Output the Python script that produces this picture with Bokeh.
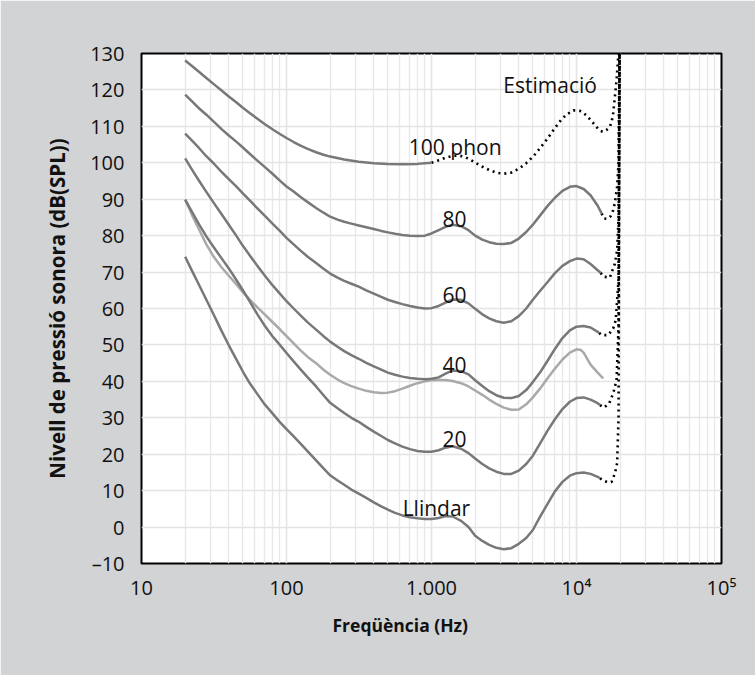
from bokeh.plotting import figure
from bokeh.models import FixedTicker, Label, Title
from bokeh.embed import file_html
from bokeh.resources import INLINE

# ---------------- data ----------------
# threshold of hearing ("Llindar")
thr_f = [20, 22.4, 25, 28, 31.5, 35.5, 40, 45, 50, 56, 63, 71, 80, 90, 100, 112, 125, 140, 160, 180,
         200, 225, 250, 280, 315, 355, 400, 450, 500, 560, 630, 710, 800, 900, 1000, 1120, 1250, 1400,
         1600, 1800, 2000, 2240, 2500, 2800, 3150, 3550, 4000, 4500, 5000, 5600, 6300, 7100, 8000,
         9000, 10000, 11200, 12500, 14000, 14520]
thr_db = [74.2, 70.2, 66.4, 62.4, 58.3, 54.0, 49.9, 46.1, 42.7, 39.4, 36.5, 33.6, 31.2, 28.8, 26.9, 24.9,
          22.9, 20.8, 18.3, 16.1, 14.2, 12.8, 11.6, 10.3, 9.2, 8.0, 6.8, 5.7, 4.8, 3.9, 3.2, 2.7, 2.4, 2.2,
          2.2, 2.5, 3.0, 2.9, 1.7, 0.0, -2.4, -3.8, -4.9, -5.7, -6.1, -5.8, -4.6, -3.0, -0.8, 2.8, 6.3,
          9.8, 12.4, 14.1, 14.8, 15.0, 14.6, 13.8, 13.4]
thr_est_f = [14520, 15460, 16400, 17450, 18390, 19060, 19500, 19800]
thr_est_db = [13.4, 12.7, 12.3, 12.4, 14.7, 17.5, 30.0, 130]

p20_f = [20, 22.4, 25, 28, 31.5, 35.5, 40, 45, 50, 56, 63, 71, 80, 90, 100, 112, 125, 140, 160, 180,
         200, 225, 250, 280, 315, 355, 400, 450, 500, 560, 630, 710, 800, 900, 1000, 1120, 1250, 1400,
         1600, 1800, 2000, 2240, 2500, 2800, 3150, 3550, 4000, 4500, 5000, 5600, 6300, 7100, 8000,
         9000, 10000, 11200, 12500, 14000, 14520]
p20_db = [89.9, 86.4, 83.0, 79.8, 76.8, 73.9, 71.0, 67.9, 65.0, 61.8, 58.4, 55.2, 52.4, 50.0, 47.8, 45.5,
          43.3, 41.1, 38.6, 36.2, 34.1, 32.6, 31.3, 30.0, 28.9, 27.5, 26.2, 25.0, 23.9, 23.0, 22.1, 21.4,
          20.9, 20.7, 20.7, 21.1, 21.8, 22.2, 21.5, 20.3, 18.8, 17.3, 16.1, 15.2, 14.6, 14.6, 15.5, 17.3,
          19.6, 22.9, 26.4, 29.6, 32.4, 34.4, 35.4, 35.6, 35.0, 34.0, 33.5]
p20_est_f = [14520, 15460, 16790, 17900, 18890, 19500, 19800]
p20_est_db = [33.5, 32.8, 33.9, 36.7, 40.3, 55.0, 130]

p40_f = [20, 22.4, 25, 28, 31.5, 35.5, 40, 45, 50, 56, 63, 71, 80, 90, 100, 112, 125, 140, 160, 180,
         200, 225, 250, 280, 315, 355, 400, 450, 500, 560, 630, 710, 800, 900, 1000, 1120, 1250, 1400,
         1600, 1800, 2000, 2240, 2500, 2800, 3150, 3550, 4000, 4500, 5000, 5600, 6300, 7100, 8000,
         9000, 10000, 11200, 12500, 14000, 14340]
p40_db = [101.2, 98.0, 95.0, 92.0, 89.0, 86.0, 83.0, 80.0, 77.2, 74.5, 71.7, 69.0, 66.4, 64.1, 62.0, 60.0,
          58.1, 56.2, 54.2, 52.4, 50.9, 49.5, 48.3, 47.2, 46.2, 45.1, 44.1, 43.2, 42.4, 41.8, 41.3, 40.9,
          40.7, 40.6, 40.7, 41.1, 42.1, 43.0, 42.8, 41.9, 40.3, 38.7, 37.3, 36.2, 35.5, 35.4, 36.0, 37.6,
          39.8, 42.4, 45.6, 48.9, 51.9, 54.0, 55.0, 55.2, 54.8, 53.6, 53.3]
p40_est_f = [14340, 14900, 16550, 17900, 18660, 19500, 19800]
p40_est_db = [53.3, 52.7, 52.7, 54.5, 56.8, 68.0, 130]

# older standard, 40 phon (light grey)
old40_f = [20, 22.4, 25, 28, 31.5, 35.5, 40, 45, 50, 56, 63, 71, 80, 90, 100, 112, 125, 140, 160, 180,
           200, 225, 250, 280, 315, 355, 400, 450, 500, 560, 630, 710, 800, 900, 1000, 1120, 1250, 1400,
           1600, 1800, 2000, 2240, 2500, 2800, 3150, 3550, 4000, 4500, 5000, 5600, 6300, 7100, 8000,
           9000, 10000, 10700, 11200, 12500, 14000, 15270]
old40_db = [89.9, 85.5, 81.6, 77.6, 74.2, 71.4, 69.0, 66.7, 64.5, 62.4, 60.3, 58.3, 56.3, 54.3, 52.4, 50.4,
            48.5, 46.7, 45.0, 43.2, 41.8, 40.5, 39.5, 38.7, 38.0, 37.4, 37.0, 36.8, 36.9, 37.3, 38.0, 38.8,
            39.5, 40.0, 40.3, 40.4, 40.4, 40.1, 39.5, 38.6, 37.5, 36.3, 35.0, 33.8, 32.8, 32.2, 32.3, 33.7,
            35.6, 38.0, 40.8, 43.5, 46.0, 47.9, 48.8, 48.6, 47.9, 44.6, 42.4, 40.8]

p60_f = [20, 22.4, 25, 28, 31.5, 35.5, 40, 45, 50, 56, 63, 71, 80, 90, 100, 112, 125, 140, 160, 180,
         200, 225, 250, 280, 315, 355, 400, 450, 500, 560, 630, 710, 800, 900, 1000, 1120, 1250, 1400,
         1600, 1800, 2000, 2240, 2500, 2800, 3150, 3550, 4000, 4500, 5000, 5600, 6300, 7100, 8000,
         9000, 10000, 11200, 12500, 14000, 14660]
p60_db = [108.0, 106.0, 104.0, 101.8, 99.8, 97.6, 95.5, 93.5, 91.6, 89.6, 87.5, 85.4, 83.3, 81.3, 79.4,
          77.6, 75.9, 74.2, 72.5, 70.9, 69.6, 68.5, 67.6, 66.8, 66.0, 65.0, 64.1, 63.2, 62.4, 61.8, 61.2,
          60.7, 60.3, 60.0, 60.1, 60.7, 61.6, 62.5, 62.4, 61.4, 59.9, 58.4, 57.3, 56.5, 56.1, 56.5, 57.9,
          60.0, 62.4, 64.8, 67.2, 69.7, 71.7, 73.0, 73.7, 73.5, 72.2, 70.5, 69.8]
p60_est_f = [14660, 15460, 16980, 18390, 19060, 19500, 19800]
p60_est_db = [69.8, 68.7, 68.5, 72.3, 76.0, 85.0, 130]

p80_f = [20, 22.4, 25, 28, 31.5, 35.5, 40, 45, 50, 56, 63, 71, 80, 90, 100, 112, 125, 140, 160, 180,
         200, 225, 250, 280, 315, 355, 400, 450, 500, 560, 630, 710, 800, 900, 1000, 1120, 1250, 1400,
         1600, 1800, 2000, 2240, 2500, 2800, 3150, 3550, 4000, 4500, 5000, 5600, 6300, 7100, 8000,
         9000, 10000, 11200, 12500, 14000, 14900]
p80_db = [118.7, 116.8, 114.9, 113.2, 111.3, 109.3, 107.5, 105.8, 104.2, 102.4, 100.6, 98.8, 97.0, 95.1,
          93.5, 92.1, 90.6, 89.2, 87.6, 86.3, 85.2, 84.4, 83.8, 83.3, 82.8, 82.3, 81.8, 81.3, 80.9, 80.5,
          80.2, 80.0, 79.9, 80.0, 80.6, 81.5, 82.4, 83.0, 82.6, 81.5, 80.0, 78.9, 78.2, 77.8, 77.7, 78.0,
          79.2, 81.0, 83.0, 85.5, 88.1, 90.4, 92.3, 93.4, 93.6, 92.8, 91.1, 88.2, 86.1]
p80_est_f = [14900, 15460, 16300, 17180, 17900, 18390, 19060, 19500, 19800]
p80_est_db = [86.1, 84.7, 84.6, 85.3, 87.0, 89.0, 93.4, 100.0, 130]

p100_f = [20, 22.4, 25, 28, 31.5, 35.5, 40, 45, 50, 56, 63, 71, 80, 90, 100, 112, 125, 140, 160, 180,
          200, 250, 315, 400, 500, 630, 800, 1000]
p100_db = [128.1, 126.5, 124.9, 123.3, 121.6, 119.9, 118.2, 116.6, 115.1, 113.6, 112.1, 110.6, 109.2,
           107.9, 106.8, 105.7, 104.7, 103.8, 102.9, 102.2, 101.7, 100.9, 100.3, 99.9, 99.7, 99.6, 99.7,
           100.0]
p100_est_f = [1000, 1120, 1250, 1400, 1540, 1700, 1900, 2170, 2500, 2800, 3150, 3550, 4090, 4500, 5050,
              5600, 6240, 7000, 7700, 8500, 9510, 10500, 11750, 12800, 13770, 14500, 15270, 16100,
              16980, 17500, 17900, 18390, 18890, 19380, 19500]
p100_est_db = [100.0, 100.7, 101.4, 101.9, 102.0, 101.6, 100.6, 99.2, 98.0, 97.3, 97.0, 97.3, 98.6, 99.9,
               101.8, 104.0, 106.4, 109.2, 111.4, 113.2, 114.4, 114.3, 113.0, 111.3, 109.8, 108.8, 108.5,
               109.0, 109.8, 111.5, 113.5, 118.1, 122.6, 129.0, 130]

x_ticks = [10, 100, 1000, 10000, 100000]
x_tick_labels = ["10", "100", "1.000", "10\u2074", "10\u2075"]
x_minor = [m * d for d in (10, 100, 1000, 10000) for m in range(2, 10)]
y_ticks = list(range(-10, 131, 10))
y_tick_labels = ["\u201310"] + [str(v) for v in y_ticks[1:]]

# ---------------- figure ----------------
FONT = "Open Sans"
DARK = "#78787b"
LIGHT = "#a9a9ab"
TXT = "#111111"

p = figure(width=755, height=675, x_axis_type="log", x_range=(10, 100000), y_range=(-10, 130),
           output_backend="svg", toolbar_location=None,
           min_border_left=141, min_border_right=34, min_border_top=53, min_border_bottom=112)
p.border_fill_color = "#d1d3d4"
p.background_fill_color = "white"
p.outline_line_color = "black"
p.outline_line_width = 2

xt = FixedTicker(ticks=x_ticks, minor_ticks=x_minor)
yt = FixedTicker(ticks=y_ticks)
p.xaxis.ticker = xt
p.xgrid.ticker = xt
p.yaxis.ticker = yt
p.ygrid.ticker = yt
p.xaxis.major_label_overrides = dict(zip(x_ticks, x_tick_labels))
p.yaxis.major_label_overrides = dict(zip(y_ticks, y_tick_labels))

for ax in (p.xaxis, p.yaxis):
    ax.axis_line_color = None
    ax.major_tick_line_color = None
    ax.minor_tick_line_color = None
    ax.major_label_text_font = FONT
    ax.major_label_text_font_size = "20px"
    ax.major_label_text_color = TXT
p.xaxis.major_label_standoff = 4
p.yaxis.major_label_standoff = 11

p.yaxis.axis_label = "Nivell de pressió sonora (dB(SPL))"
p.yaxis.axis_label_text_font = FONT
p.yaxis.axis_label_text_font_style = "bold"
p.yaxis.axis_label_text_font_size = "20.5px"
p.yaxis.axis_label_text_color = TXT
p.yaxis.axis_label_standoff = 16

p.xgrid.grid_line_color = "#e4e4e4"
p.ygrid.grid_line_color = "#e4e4e4"
p.xgrid.grid_line_width = 1.6
p.ygrid.grid_line_width = 1.6
p.xgrid.minor_grid_line_color = "#e8e8e8"
p.xgrid.minor_grid_line_width = 1.4

p.add_layout(Title(text="Freqüència (Hz)", align="left", offset=191, standoff=15,
                   text_font=FONT, text_font_style="bold", text_font_size="17.5px",
                   text_color=TXT), "below")

# estimation (dotted)
for fx, dy in [(thr_est_f, thr_est_db), (p20_est_f, p20_est_db), (p40_est_f, p40_est_db),
               (p60_est_f, p60_est_db), (p80_est_f, p80_est_db), (p100_est_f, p100_est_db)]:
    p.line(fx, dy, line_color="black", line_width=2.6, line_dash="2 4")

p.line(old40_f, old40_db, line_color=LIGHT, line_width=2.5, line_join="round")
for fx, dy in [(thr_f, thr_db), (p20_f, p20_db), (p40_f, p40_db), (p60_f, p60_db),
               (p80_f, p80_db), (p100_f, p100_db)]:
    p.line(fx, dy, line_color=DARK, line_width=2.5, line_join="round")

labels = [("100 phon", 698, 104.3, "left"), ("80", 1439, 84.7, "center"), ("60", 1439, 63.6, "center"),
          ("40", 1439, 44.4, "center"), ("20", 1439, 24.3, "center"), ("Llindar", 1081, 5.1, "center"),
          ("Estimació", 6580, 121.3, "center")]
for txt, lx, ly, al in labels:
    p.add_layout(Label(x=lx, y=ly, text=txt, text_align=al, text_baseline="alphabetic",
                       text_font=FONT, text_font_size="21px", text_color=TXT))

open("out.html", "w").write(file_html(p, INLINE))
